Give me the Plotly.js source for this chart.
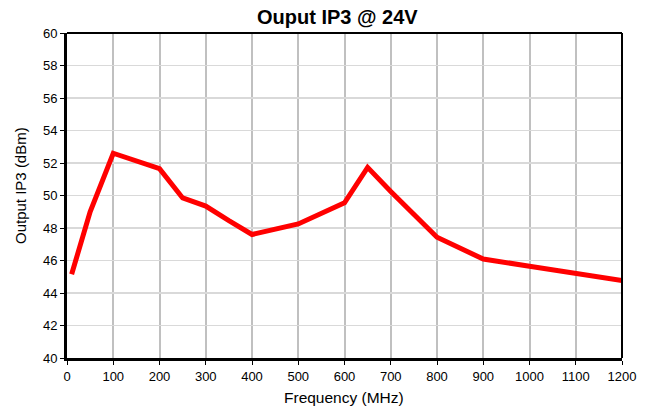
<!DOCTYPE html>
<html>
<head>
<meta charset="utf-8">
<script src="https://cdn.plot.ly/plotly-3.0.1.min.js"></script>
<style>html,body{margin:0;padding:0;background:#fff;}#chart{width:646px;height:409px;}</style>
</head>
<body>
<div id="chart"></div>
<script>
const freqMHz = [10, 50, 100, 200, 250, 300, 350, 400, 500, 600, 650, 700, 800, 900, 1000, 1100, 1200];
const ip3dBm  = [45.15, 49.0, 52.6, 51.65, 49.85, 49.35, 48.45, 47.6, 48.25, 49.55, 51.73, 50.25, 47.43, 46.09, 45.65, 45.2, 44.76];
const xTicks = [0, 100, 200, 300, 400, 500, 600, 700, 800, 900, 1000, 1100, 1200];
const yTicks = [40, 42, 44, 46, 48, 50, 52, 54, 56, 58, 60];
const chartTitle = "Ouput IP3 @ 24V";
const xTitle = "Frequency (MHz)";
const yTitle = "Output IP3 (dBm)";

const font = "Liberation Sans, Arial, sans-serif";
const trace = {
  x: freqMHz, y: ip3dBm, type: "scatter", mode: "lines",
  line: {color: "#ff0000", width: 5}, hoverinfo: "skip"
};
const W = 646, H = 409, L = 67, R = 24, T = 33, B = 51;
const pw = W - L - R, ph = H - T - B;
const px = x => (x - L) / pw;
const py = y => (H - B - y) / ph;
const layout = {
  width: W, height: H,
  margin: {l: L, r: R, t: T, b: B},
  paper_bgcolor: "#fff", plot_bgcolor: "#fff",
  showlegend: false,
  font: {family: font, size: 13, color: "#000"},
  xaxis: {
    range: [0, 1200], tickvals: xTicks, ticktext: xTicks.map(String),
    showgrid: true, gridcolor: "#c0c0c0", gridwidth: 2,
    showline: true, linecolor: "#000", linewidth: 3,
    ticks: "outside", ticklen: 4, tickcolor: "#000", tickwidth: 1,
    zeroline: false, tickfont: {family: font, size: 13, color: "#000"}
  },
  yaxis: {
    range: [40, 60], tickvals: yTicks, ticktext: yTicks.map(String),
    showgrid: true, gridcolor: "#d9d9d9", gridwidth: 1.5,
    showline: true, linecolor: "#000", linewidth: 3,
    ticks: "outside", ticklen: 4, tickcolor: "#000", tickwidth: 1,
    zeroline: false, tickfont: {family: font, size: 13, color: "#000"}
  },
  annotations: [
    {text: "<b>" + chartTitle + "</b>", xref: "paper", yref: "paper", x: px(337), y: py(17),
     xanchor: "center", yanchor: "middle", showarrow: false, font: {family: font, size: 20, color: "#000"}},
    {text: xTitle, xref: "paper", yref: "paper", x: px(344), y: py(397),
     xanchor: "center", yanchor: "middle", showarrow: false, font: {family: font, size: 15.5, color: "#000"}},
    {text: yTitle, xref: "paper", yref: "paper", x: px(21), y: py(186), textangle: -90,
     xanchor: "center", yanchor: "middle", showarrow: false, font: {family: font, size: 15, color: "#000"}}
  ],
  shapes: [
    {type: "line", xref: "paper", yref: "paper", x0: 0, x1: 1, y0: 1, y1: 1, line: {color: "#000", width: 2}},
    {type: "line", xref: "paper", yref: "paper", x0: 1, x1: 1, y0: 0, y1: 1, line: {color: "#000", width: 2}}
  ]
};
Plotly.newPlot("chart", [trace], layout, {staticPlot: true, displayModeBar: false});
</script>
</body>
</html>
